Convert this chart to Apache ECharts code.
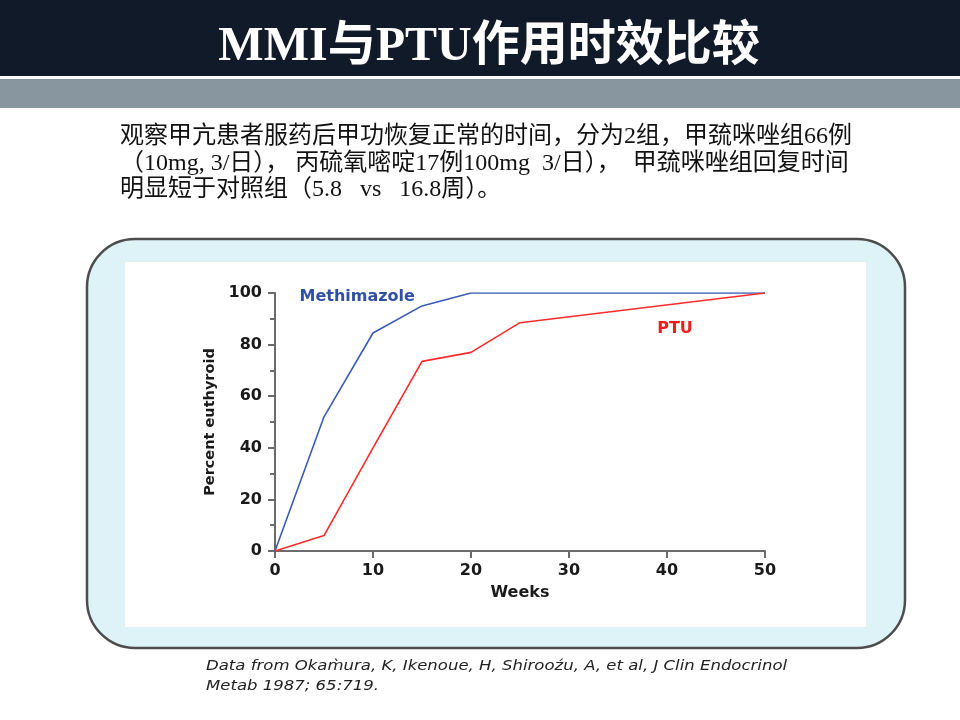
<!DOCTYPE html>
<html>
<head>
<meta charset="utf-8">
<script src="https://cdn.jsdelivr.net/npm/echarts@6/dist/echarts.min.js"></script>
<style>
html,body{margin:0;padding:0;background:#fff;}
#c{width:960px;height:720px;}
</style>
</head>
<body>
<div id="c"></div>
<script>
// ---- data ----
const titleText = 'MMI与PTU作用时效比较';
const bodyLines = [
  '观察甲亢患者服药后甲功恢复正常的时间，分为2组，甲巯咪唑组66例',
  '（10mg, 3/日）， 丙硫氧嘧啶17例100mg  3/日），  甲巯咪唑组回复时间',
  '明显短于对照组（5.8   vs   16.8周）。'
];
const footLines = [
  'Data from Okam\u0300ura, K, Ikenoue, H, Shirooz\u0301u, A, et al, J Clin Endocrinol',
  'Metab 1987; 65:719.'
];
const seriesNames = ['Methimazole', 'PTU'];
const mmiWeeks = [0, 5, 10, 15, 20, 50];
const mmiPct   = [0, 52, 84.5, 95, 100, 100];
const ptuWeeks = [0, 5, 10, 15, 20, 25, 50];
const ptuPct   = [0, 6, 40, 73.5, 77, 88.5, 100];
const xTicks = [0, 10, 20, 30, 40, 50];
const yTicks = [0, 20, 40, 60, 80, 100];
const xName = 'Weeks';
const yName = 'Percent euthyroid';
// annotation anchors in data units
const labelAnchors = [[2.5, 98.4], [39, 86]];

const chart = echarts.init(document.getElementById('c'), null, {renderer: 'canvas'});
const axisColor = '#6b6b6b';
const lblFont = 'DejaVu Sans';

const option = {
  animation: false,
  backgroundColor: '#ffffff',
  grid: {left: 275, right: 195, top: 293, bottom: 169, containLabel: false},
  xAxis: {
    type: 'value', min: xTicks[0], max: xTicks[xTicks.length - 1], interval: 10,
    name: xName, nameLocation: 'middle', nameGap: 34,
    nameTextStyle: {fontFamily: lblFont, fontWeight: 'bold', fontSize: 16, color: '#1a1a1a'},
    axisLine: {show: true, lineStyle: {color: axisColor, width: 2}},
    axisTick: {show: true, length: 7, lineStyle: {color: axisColor, width: 2}},
    splitLine: {show: false},
    axisLabel: {margin: 12, fontFamily: lblFont, fontWeight: 'bold', fontSize: 16, color: '#1a1a1a'}
  },
  yAxis: {
    type: 'value', min: yTicks[0], max: yTicks[yTicks.length - 1], interval: 20,
    name: yName, nameLocation: 'middle', nameGap: 56, nameRotate: 90,
    nameTextStyle: {fontFamily: lblFont, fontWeight: 'bold', fontSize: 14.5, color: '#1a1a1a'},
    axisLine: {show: true, lineStyle: {color: axisColor, width: 2}},
    axisTick: {show: true, length: 7, lineStyle: {color: axisColor, width: 2}},
    minorTick: {show: true, splitNumber: 2, length: 5, lineStyle: {color: axisColor, width: 2}},
    splitLine: {show: false},
    axisLabel: {margin: 13, fontFamily: lblFont, fontWeight: 'bold', fontSize: 16, color: '#1a1a1a'}
  },
  series: [
    {
      name: seriesNames[0], type: 'line', symbol: 'none', z: 3,
      data: mmiWeeks.map((w, i) => [w, mmiPct[i]]),
      lineStyle: {color: '#3a5cb5', width: 1.6}
    },
    {
      name: seriesNames[1], type: 'line', symbol: 'none', z: 4,
      data: ptuWeeks.map((w, i) => [w, ptuPct[i]]),
      lineStyle: {color: '#ff2b2b', width: 1.6}
    }
  ],
  graphic: {elements: []}
};
chart.setOption(option);

const p1 = chart.convertToPixel({gridIndex: 0}, labelAnchors[0]);
const p2 = chart.convertToPixel({gridIndex: 0}, labelAnchors[1]);

const els = [
  // header bands
  {type: 'rect', z: -10, shape: {x: 0, y: 0, width: 960, height: 76}, style: {fill: '#101a28'}},
  {type: 'rect', z: -10, shape: {x: 0, y: 79, width: 960, height: 29}, style: {fill: '#8896a0'}},
  // rounded panel
  {type: 'rect', z: -10, shape: {x: 87, y: 239, width: 818, height: 409, r: 48},
   style: {fill: '#ddf3f7', stroke: '#4d4d4d', lineWidth: 2.5}},
  {type: 'rect', z: -9, shape: {x: 125, y: 262, width: 741, height: 365}, style: {fill: '#ffffff'}},
  // title
  {type: 'text', z: 10, style: {text: titleText, x: 489, y: 48, align: 'center', verticalAlign: 'middle',
    font: 'bold 48px "Liberation Serif", "Noto Sans CJK SC"', fill: '#ffffff'}},
  // body lines
  ...bodyLines.map((t, i) => ({type: 'text', z: 10, style: {text: t, x: 120, y: 137 + i * 26.5,
    align: 'left', verticalAlign: 'middle', font: '24px "Liberation Serif", "Noto Sans CJK SC"', fill: '#111111'}})),
  // footnote (horizontally widened like the reference)
  ...footLines.map((t, i) => ({type: 'text', z: 10, x: 206, y: 666 + i * 20, scaleX: 1.18, scaleY: 1,
    style: {text: t, x: 0, y: 0, align: 'left', verticalAlign: 'middle', font: 'italic 14px "DejaVu Sans"', fill: '#222222'}})),
  // series annotations
  {type: 'text', z: 10, style: {text: seriesNames[0], x: p1[0], y: p1[1], align: 'left', verticalAlign: 'middle',
    font: 'bold 16px "DejaVu Sans"', fill: '#2f50a6'}},
  {type: 'text', z: 10, style: {text: seriesNames[1], x: p2[0], y: p2[1], align: 'left', verticalAlign: 'middle',
    font: 'bold 16px "DejaVu Sans"', fill: '#ee1c1c'}}
];
chart.setOption({graphic: {elements: els}});
</script>
</body>
</html>
